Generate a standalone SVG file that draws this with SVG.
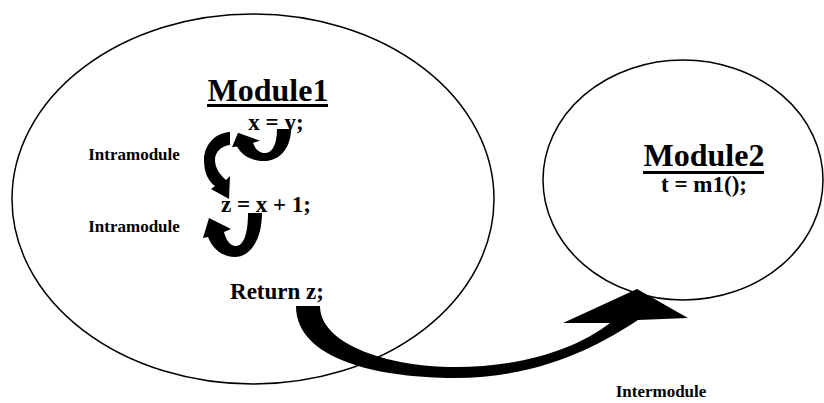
<svg xmlns="http://www.w3.org/2000/svg" width="824" height="403" viewBox="0 0 824 403">
<style>
.mod{fill:#fff;stroke:#000;stroke-width:1.5}
.t{font-family:"Liberation Serif","Times New Roman",serif;font-weight:bold;fill:#000}
.title{font-size:32px}
.code{font-size:23px}
.lbl{font-size:17px}
.arr{fill:#000;stroke:none}
</style>
<defs>
<path id="uarrow" d="M248,213 L262,213 C262,240 250,257 235,257 C222,257 212,248 208,237 L203,238 L209,218 L231,229 L224,232 C226,240 230,246 236,246 C243,246 248,235 248,213 Z"/>
</defs>
<rect width="824" height="403" fill="#fff"/>
<g id="module1">
<ellipse class="mod" cx="253" cy="199" rx="241" ry="185"/>
<text class="t title" x="268" y="101" text-anchor="middle">Module1</text>
<rect x="207" y="104" width="121" height="3" fill="#000"/>
<text class="t code" x="276" y="130" text-anchor="middle">x = y;</text>
<text class="t code" x="266" y="212" text-anchor="middle">z = x + 1;</text>
<text class="t code" x="277" y="299" text-anchor="middle">Return z;</text>
</g>
<g id="module2">
<ellipse class="mod" cx="683" cy="180" rx="140" ry="120"/>
<text class="t title" x="704" y="166" text-anchor="middle">Module2</text>
<rect x="643" y="171" width="121" height="3" fill="#000"/>
<text class="t code" x="704" y="192" text-anchor="middle">t = m1();</text>
</g>
<g id="connectors">
<use href="#uarrow" class="arr" transform="translate(29,129) scale(1,0.73) translate(0,-213)"/>
<path class="arr" d="M230,132 C214,133 204,146 204,160 C204,172 208,181 215,186 L211,189 L229,199 L230,176 L226,180 C219,174 215,167 215,160 C215,152 221,146 230,145 Z"/>
<use href="#uarrow" class="arr"/>
<path class="arr" d="M296,306 L320,306 C320,345 390,367 455,367 C520,367 575,350 610,323 L563,323 L637,289 L688,318 L638,320 C600,345 540,378 455,378 C380,378 296,360 296,306 Z"/>
</g>
<g id="labels">
<text class="t lbl" x="134" y="160" text-anchor="middle">Intramodule</text>
<text class="t lbl" x="134" y="232" text-anchor="middle">Intramodule</text>
<text class="t lbl" x="661" y="397" text-anchor="middle">Intermodule</text>
</g>
</svg>
